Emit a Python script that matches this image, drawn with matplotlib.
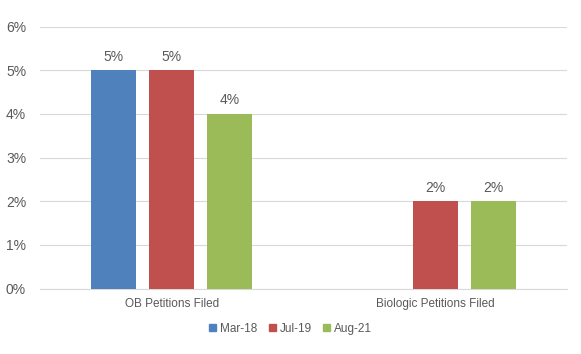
import numpy as np
import matplotlib.pyplot as plt
from matplotlib.patches import Patch

plt.rcParams['font.family'] = ['Liberation Sans', 'DejaVu Sans']

categories = ["OB Petitions Filed", "Biologic Petitions Filed"]
series_names = ["Mar-18", "Jul-19", "Aug-21"]
mar18 = [5, None]
jul19 = [5, 2]
aug21 = [4, 2]
colors = ["#4F81BD", "#C0504D", "#9BBB59"]
yticks = [0, 1, 2, 3, 4, 5, 6]

fig = plt.figure(figsize=(5.81, 3.54), dpi=100)
ax = fig.add_axes([0.0688, 0.185, 0.907, 0.74])

x = np.arange(len(categories))
width = 0.171
step = 0.22
text_col = "#595959"
num_fs = 10
lab_fs = 8.5

for i, (vals, col) in enumerate(zip([mar18, jul19, aug21], colors)):
    for j, v in enumerate(vals):
        if v is None:
            continue
        xp = x[j] + (i - 1) * step
        ax.bar(xp, v, width=width, color=col, zorder=3)
        ax.text(xp, v + 0.15, f"{v}%", ha="center", va="bottom",
                fontsize=num_fs, color=text_col)

ax.set_xlim(-0.5, 1.5)
ax.set_ylim(0, 6)
ax.set_yticks(yticks)
ax.set_yticklabels([f"{t}%" for t in yticks])
ax.set_xticks(x)
ax.set_xticklabels(categories)
ax.tick_params(axis="both", length=0, colors=text_col)
ax.tick_params(axis="y", pad=10, labelsize=num_fs)
ax.tick_params(axis="x", pad=7, labelsize=lab_fs)
ax.grid(axis="y", color="#D9D9D9", linewidth=0.8, zorder=0)
for s in ["top", "right", "left"]:
    ax.spines[s].set_visible(False)
ax.spines["bottom"].set_color("#D9D9D9")

handles = [Patch(color=c, label=n) for c, n in zip(colors, series_names)]
fig.legend(handles=handles, loc="center", bbox_to_anchor=(0.5, 0.072), ncol=3,
           frameon=False, fontsize=lab_fs, labelcolor=text_col, handlelength=0.6,
           handleheight=0.6, handletextpad=0.3, columnspacing=1.0)

fig.savefig("out.png", dpi=100)
